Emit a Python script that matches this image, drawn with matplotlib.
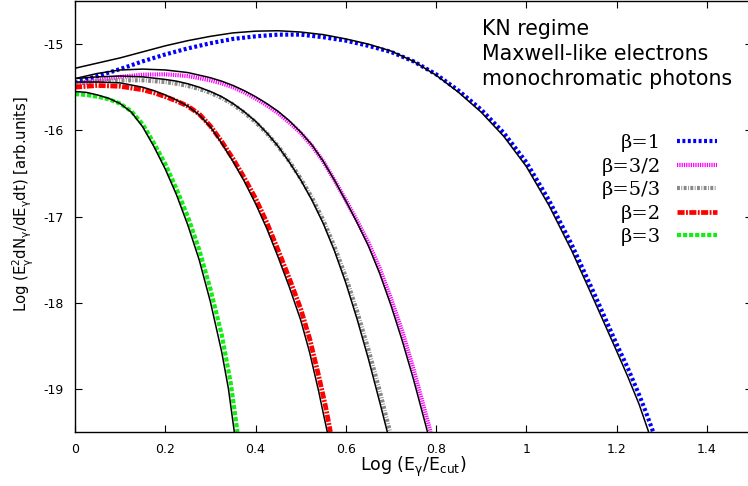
import numpy as np
import matplotlib
matplotlib.use("Agg")
import matplotlib.pyplot as plt

plt.rcParams['font.family'] = ['DejaVu Sans']
plt.rcParams['mathtext.default'] = 'regular'
plt.rcParams['axes.unicode_minus'] = False

# beta = 1 (coloured curve and black approximation)
x_b1 = [0, 0.05, 0.10, 0.15, 0.20, 0.25, 0.30, 0.35, 0.40, 0.45, 0.50, 0.55, 0.60, 0.65,
        0.70, 0.75, 0.80, 0.85, 0.90, 0.95, 1.00, 1.05, 1.10, 1.15, 1.20, 1.225, 1.25, 1.265, 1.281]
y_b1 = [-15.45, -15.37, -15.29, -15.20, -15.12, -15.05, -14.99, -14.94, -14.91, -14.89, -14.89,
        -14.92, -14.96, -15.02, -15.09, -15.20, -15.35, -15.54, -15.76, -16.03, -16.37, -16.81,
        -17.32, -17.89, -18.48, -18.76, -19.07, -19.27, -19.5]
xk_b1 = [0, 0.05, 0.10, 0.15, 0.20, 0.25, 0.30, 0.35, 0.40, 0.45, 0.50, 0.55, 0.60, 0.65,
         0.70, 0.75, 0.80, 0.85, 0.90, 0.95, 1.00, 1.05, 1.10, 1.15, 1.20, 1.225, 1.25, 1.271]
yk_b1 = [-15.28, -15.22, -15.16, -15.09, -15.02, -14.96, -14.91, -14.87, -14.85, -14.845, -14.86,
         -14.89, -14.94, -15.00, -15.08, -15.20, -15.36, -15.56, -15.79, -16.07, -16.42, -16.87,
         -17.39, -17.97, -18.56, -18.86, -19.18, -19.5]

# beta = 3/2
x_b32 = [0, 0.05, 0.10, 0.15, 0.20, 0.25, 0.30, 0.325, 0.35, 0.375, 0.40, 0.425, 0.45, 0.475,
         0.50, 0.525, 0.55, 0.575, 0.60, 0.625, 0.65, 0.675, 0.70, 0.725, 0.75, 0.775, 0.788]
y_b32 = [-15.46, -15.42, -15.38, -15.355, -15.35, -15.37, -15.42, -15.455, -15.50, -15.56, -15.63,
         -15.71, -15.80, -15.91, -16.03, -16.18, -16.36, -16.58, -16.81, -17.05, -17.30, -17.60,
         -17.95, -18.33, -18.77, -19.25, -19.5]
xk_b32 = [0, 0.05, 0.10, 0.15, 0.20, 0.25, 0.30, 0.325, 0.35, 0.375, 0.40, 0.425, 0.45, 0.475,
          0.50, 0.525, 0.55, 0.575, 0.60, 0.625, 0.65, 0.675, 0.70, 0.725, 0.75, 0.775, 0.781]
yk_b32 = [-15.40, -15.34, -15.30, -15.29, -15.30, -15.33, -15.39, -15.43, -15.48, -15.54, -15.61,
          -15.69, -15.78, -15.89, -16.02, -16.17, -16.36, -16.58, -16.82, -17.07, -17.34, -17.66,
          -18.03, -18.44, -18.89, -19.38, -19.5]

# beta = 5/3
x_b53 = [0, 0.05, 0.10, 0.15, 0.20, 0.225, 0.25, 0.275, 0.30, 0.325, 0.35, 0.375, 0.40, 0.425,
         0.45, 0.475, 0.50, 0.525, 0.55, 0.575, 0.60, 0.625, 0.65, 0.675, 0.698]
y_b53 = [-15.46, -15.43, -15.42, -15.42, -15.44, -15.46, -15.485, -15.52, -15.565, -15.625,
         -15.70, -15.795, -15.905, -16.035, -16.185, -16.36, -16.56, -16.78, -17.04, -17.35,
         -17.70, -18.10, -18.54, -19.02, -19.5]
xk_b53 = [0, 0.05, 0.10, 0.15, 0.20, 0.225, 0.25, 0.275, 0.30, 0.325, 0.35, 0.375, 0.40, 0.425,
          0.45, 0.475, 0.50, 0.525, 0.55, 0.575, 0.60, 0.625, 0.65, 0.675, 0.692]
yk_b53 = [-15.40, -15.38, -15.37, -15.38, -15.41, -15.43, -15.46, -15.50, -15.55, -15.61,
          -15.69, -15.785, -15.895, -16.03, -16.185, -16.37, -16.575, -16.81, -17.08, -17.40,
          -17.77, -18.19, -18.65, -19.15, -19.5]

# beta = 2
x_b2 = [0, 0.05, 0.10, 0.15, 0.175, 0.20, 0.225, 0.25, 0.275, 0.30, 0.325, 0.35, 0.375, 0.40,
        0.425, 0.45, 0.475, 0.50, 0.52, 0.54, 0.555, 0.566]
y_b2 = [-15.50, -15.48, -15.49, -15.53, -15.565, -15.61, -15.66, -15.72, -15.81, -15.95, -16.13,
        -16.33, -16.55, -16.79, -17.07, -17.39, -17.72, -18.07, -18.42, -18.85, -19.20, -19.5]
xk_b2 = [0, 0.05, 0.10, 0.15, 0.175, 0.20, 0.225, 0.25, 0.275, 0.30, 0.325, 0.35, 0.375, 0.40,
         0.425, 0.45, 0.475, 0.50, 0.52, 0.54, 0.55, 0.559]
yk_b2 = [-15.44, -15.44, -15.45, -15.50, -15.54, -15.59, -15.65, -15.72, -15.82, -15.96, -16.15,
         -16.36, -16.59, -16.85, -17.14, -17.47, -17.82, -18.20, -18.58, -19.03, -19.28, -19.5]

# beta = 3
x_b3 = [0, 0.025, 0.05, 0.075, 0.10, 0.125, 0.15, 0.175, 0.20, 0.225, 0.25, 0.275, 0.30, 0.325,
        0.345, 0.36]
y_b3 = [-15.58, -15.59, -15.61, -15.64, -15.69, -15.78, -15.93, -16.15, -16.39, -16.68, -17.00,
        -17.38, -17.84, -18.37, -18.93, -19.5]
xk_b3 = [0, 0.025, 0.05, 0.075, 0.10, 0.125, 0.15, 0.175, 0.20, 0.225, 0.25, 0.275, 0.30, 0.325,
         0.34, 0.353]
yk_b3 = [-15.55, -15.56, -15.59, -15.63, -15.69, -15.79, -15.96, -16.19, -16.45, -16.75, -17.10,
         -17.50, -17.99, -18.57, -19.00, -19.5]

labels = ['β=1', 'β=3/2', 'β=5/3', 'β=2', 'β=3']
x_ticks = [0, 0.2, 0.4, 0.6, 0.8, 1.0, 1.2, 1.4]
x_ticklabels = ['0', '0.2', '0.4', '0.6', '0.8', '1', '1.2', '1.4']
y_ticks = [-15, -16, -17, -18, -19]

fig = plt.figure(figsize=(7.48, 4.86), dpi=100)
ax = fig.add_axes([75/748, 54/486, 677/748, 431/486])

colored = [
    (x_b1, y_b1, 'blue', 3.0, (0.7, 0.6)),
    (x_b32, y_b32, '#ff00ff', 3.0, (0.3, 0.25)),
    (x_b53, y_b53, '#888888', 3.0, (0.7, 0.35, 0.2, 0.35)),
    (x_b2, y_b2, 'red', 3.4, (1.5, 0.3, 0.4, 0.3)),
    (x_b3, y_b3, '#11ee11', 3.0, (1.0, 0.45)),
]
handles = []
for (xs, ys, c, lw, d), lab in zip(colored, labels):
    ln, = ax.plot(xs, ys, color=c, lw=lw, dashes=d, label=lab)
    handles.append(ln)

for xs, ys in [(xk_b1, yk_b1), (xk_b32, yk_b32), (xk_b53, yk_b53), (xk_b2, yk_b2), (xk_b3, yk_b3)]:
    ax.plot(xs, ys, color='black', lw=1.1)

ax.set_xlim(0, 1.5)
ax.set_ylim(-19.5, -14.5)
ax.set_xticks(x_ticks)
ax.set_xticklabels(x_ticklabels)
ax.set_yticks(y_ticks)
ax.tick_params(direction='in', top=True, right=True, length=5, width=0.8, labelsize=9)
ax.tick_params(axis='x', pad=8)
ax.tick_params(axis='y', pad=8)
for s in ax.spines.values():
    s.set_linewidth(1.0)

ax.set_xlabel(r'Log ($E_\gamma/E_{cut}$)', fontsize=12.5)
ax.xaxis.set_label_coords(0.5, -0.053)
ax.set_ylabel(r'Log ($E^2_\gamma dN_\gamma/dE_\gamma dt$) [arb.units]', fontsize=10.7)
ax.yaxis.set_label_coords(-0.058, 0.53)

leg = ax.legend(handles=handles, loc='upper right', bbox_to_anchor=(0.948, 0.691),
                markerfirst=False, frameon=False, prop={'family': 'DejaVu Serif', 'size': 14},
                handlelength=2.06, handletextpad=0.82, labelspacing=0.28,
                borderpad=0, borderaxespad=0)

fig.text(482/748, 1 - 35/486, 'KN regime', fontsize=14.8, va='baseline')
fig.text(482/748, 1 - 60/486, 'Maxwell-like electrons', fontsize=14.8, va='baseline')
fig.text(482/748, 1 - 85/486, 'monochromatic photons', fontsize=14.8, va='baseline')

fig.savefig('out.png', dpi=100)
